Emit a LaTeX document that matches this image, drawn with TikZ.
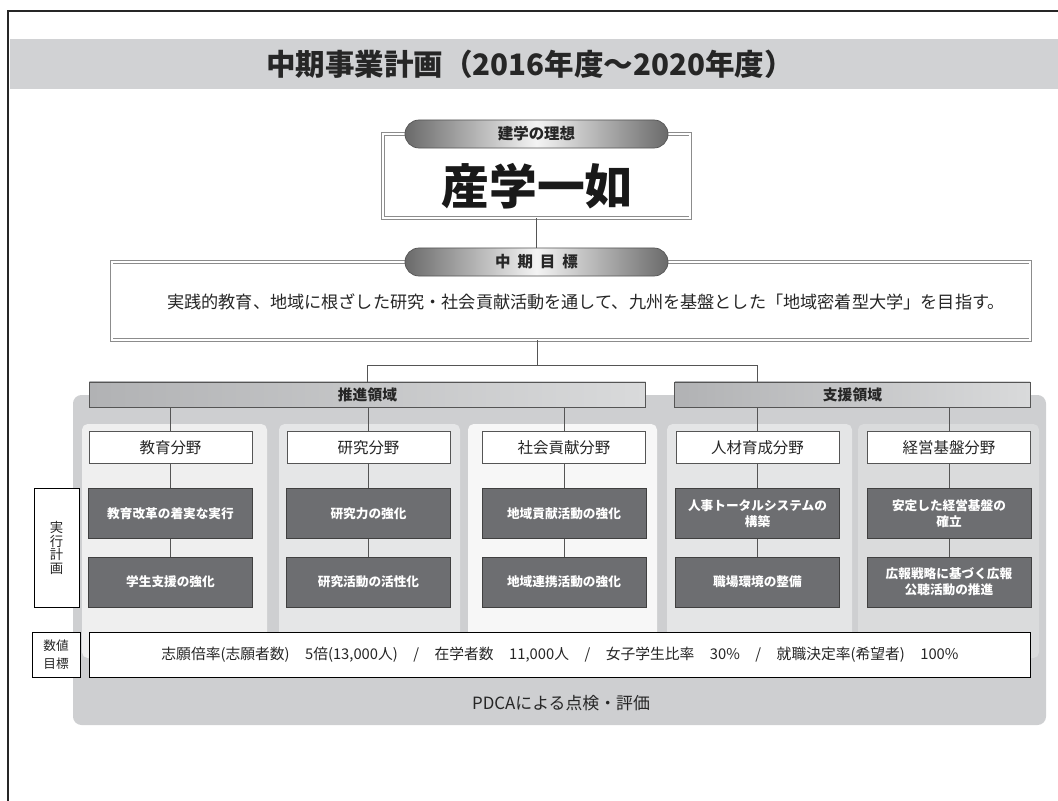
\documentclass[tikz,border=0pt]{standalone}
\usepackage{fontspec}
\setmainfont{Noto Sans CJK JP}
\usetikzlibrary{positioning}

\definecolor{titlegray}{HTML}{D1D2D4}
\definecolor{panelgray}{HTML}{CECFD1}
\definecolor{linegray}{HTML}{555555}
\definecolor{darkplan}{HTML}{6D6E71}
\definecolor{pillend}{HTML}{6A6A6A}
\definecolor{pillmid}{HTML}{F4F4F4}
\definecolor{barleft}{HTML}{B1B2B4}
\definecolor{barright}{HTML}{D9DADB}
\definecolor{colA}{HTML}{EFEFEF}
\definecolor{colB}{HTML}{E5E6E7}
\definecolor{colC}{HTML}{F7F7F7}
\definecolor{colD}{HTML}{E4E5E6}
\definecolor{colE}{HTML}{DADBDC}

\tikzset{
  line/.style={draw=linegray, line width=0.6pt},
  pill/.style={draw=linegray, line width=0.5pt, rounded corners=0.35cm,
    minimum width=6.575cm, minimum height=0.7cm,
    left color=pillend, right color=pillend, middle color=pillmid,
    font=\fontsize{11}{13}\selectfont\bfseries, text=black!85},
  dblbox/.style={draw=black!45, double=white, double distance=1.2pt, line width=0.5pt, fill=white},
  bar/.style={draw=linegray, line width=0.7pt, minimum height=0.625cm,
    left color=barleft, right color=barright,
    font=\fontsize{10.5}{12}\selectfont\bfseries, text=black!85},
  field/.style={draw=linegray, line width=0.6pt, fill=white,
    minimum width=4.075cm, minimum height=0.8cm,
    font=\fontsize{11}{13}\selectfont, text=black!85},
  plan/.style={draw=black!75, line width=0.6pt, fill=darkplan,
    minimum width=4.1cm, minimum height=1.25cm, align=center,
    font=\fontsize{9}{11.5}\selectfont\bfseries, text=white},
  sidebox/.style={draw=black, line width=0.7pt, fill=white, align=center, inner sep=0pt, text=black!85}
}
\newcommand{\gap}{\hspace{1.05em}}

\begin{document}
\begin{tikzpicture}[x=0.025cm, y=-0.025cm]
  \useasboundingbox (0,0) rectangle (1058,801);
  % frame and title
  \draw[line width=1.6pt, black!85] (8,801) -- (8,11) -- (1058,11);
  \fill[titlegray] (10,39) rectangle (1058,89);
  \node[font=\fontsize{21}{25}\selectfont\bfseries, text=black!85] (title) at (530,64)
    {中期事業計画（2016年度～2020年度）};

  % founding ideal
  \node[dblbox, minimum width=7.675cm, minimum height=2.1cm] (idea) at (536.5,176) {};
  \node[font=\fontsize{34}{38}\selectfont\bfseries, text=black!90] (motto) at (537,186) {産学一如};
  \node[pill] (ideapill) at (536.5,134) {建学の理想};

  % mid-term goal
  \node[dblbox, minimum width=22.95cm, minimum height=1.95cm] (goal) at (571,301) {};
  \node[pill] (goalpill) at (536.5,262) {中\hspace{0.45em}期\hspace{0.45em}目\hspace{0.45em}標};
  \node[font=\fontsize{12.2}{14}\selectfont, text=black!85] (goaltext) at (586,302)
    {実践的教育、地域に根ざした研究・社会貢献活動を通して、九州を基盤とした「地域密着型大学」を目指す。};
  \draw[line] (idea.south) -- (goalpill.north);
  \coordinate (split) at (537,365);
  \draw[line] (split |- goal.south) -- (split);

  % panel and columns
  \fill[panelgray, rounded corners=6pt] (73,395) rectangle (1046,725);
  \foreach \xa/\xb/\c in {82/267/colA, 279/460/colB, 468/657/colC, 667/852/colD, 858/1039/colE}
    \fill[\c, rounded corners=4pt] (\xa,424) rectangle (\xb,658);

  \node[bar, minimum width=13.9cm] (push) at (367.5,394.5) {推進領域};
  \node[bar, minimum width=8.875cm] (support) at (852.5,394.5) {支援領域};

  \foreach \n/\x/\dom/\fld/\ra/\rb in {
      1/170.5/push/教育分野/教育改革の着実な実行/学生支援の強化,
      2/368.5/push/研究分野/研究力の強化/研究活動の活性化,
      3/564/push/社会貢献分野/地域貢献活動の強化/地域連携活動の強化,
      4/757.5/support/人材育成分野/{人事トータルシステムの\\構築}/職場環境の整備,
      5/949/support/経営基盤分野/{安定した経営基盤の\\確立}/{広報戦略に基づく広報\\公聴活動の推進}} {
    \node[field] (h\n) at (\x,447.5) {\fld};
    \node[plan] (a\n) at (\x,513.5) {\ra};
    \node[plan] (b\n) at (\x,582) {\rb};
    \draw[line] (h\n.north) -- (h\n.north |- \dom.south);
    \draw[line] (h\n) -- (a\n);
    \draw[line] (a\n) -- (b\n);
  }
  \draw[line] (split) -| (push.north);
  \draw[line] (split) -| (h4.north |- support.north);

  % side labels, targets
  \node[sidebox, minimum width=1.125cm, minimum height=2.95cm,
    font=\fontsize{9.5}{9.6}\selectfont] (planlbl) at (56.5,548) {実\\行\\計\\画};
  \node[sidebox, minimum width=1.2cm, minimum height=1.125cm,
    font=\fontsize{9}{13}\selectfont] (numlbl) at (56,654.5) {数値\\目標};
  \node[draw=black, line width=0.7pt, fill=white, minimum width=23.5cm, minimum height=1.125cm,
    font=\fontsize{10.5}{12}\selectfont, text=black!85] (values) at (560,654.5)
    {志願倍率(志願者数)\gap 5倍(13,000人)\gap/\gap 在学者数\gap 11,000人\gap/\gap 女子学生比率\gap 30\%\gap/\gap 就職決定率(希望者)\gap 100\%};
  \node[font=\fontsize{12}{14}\selectfont, text=black!85] (pdca) at (561,703) {PDCAによる点検・評価};
\end{tikzpicture}
\end{document}
